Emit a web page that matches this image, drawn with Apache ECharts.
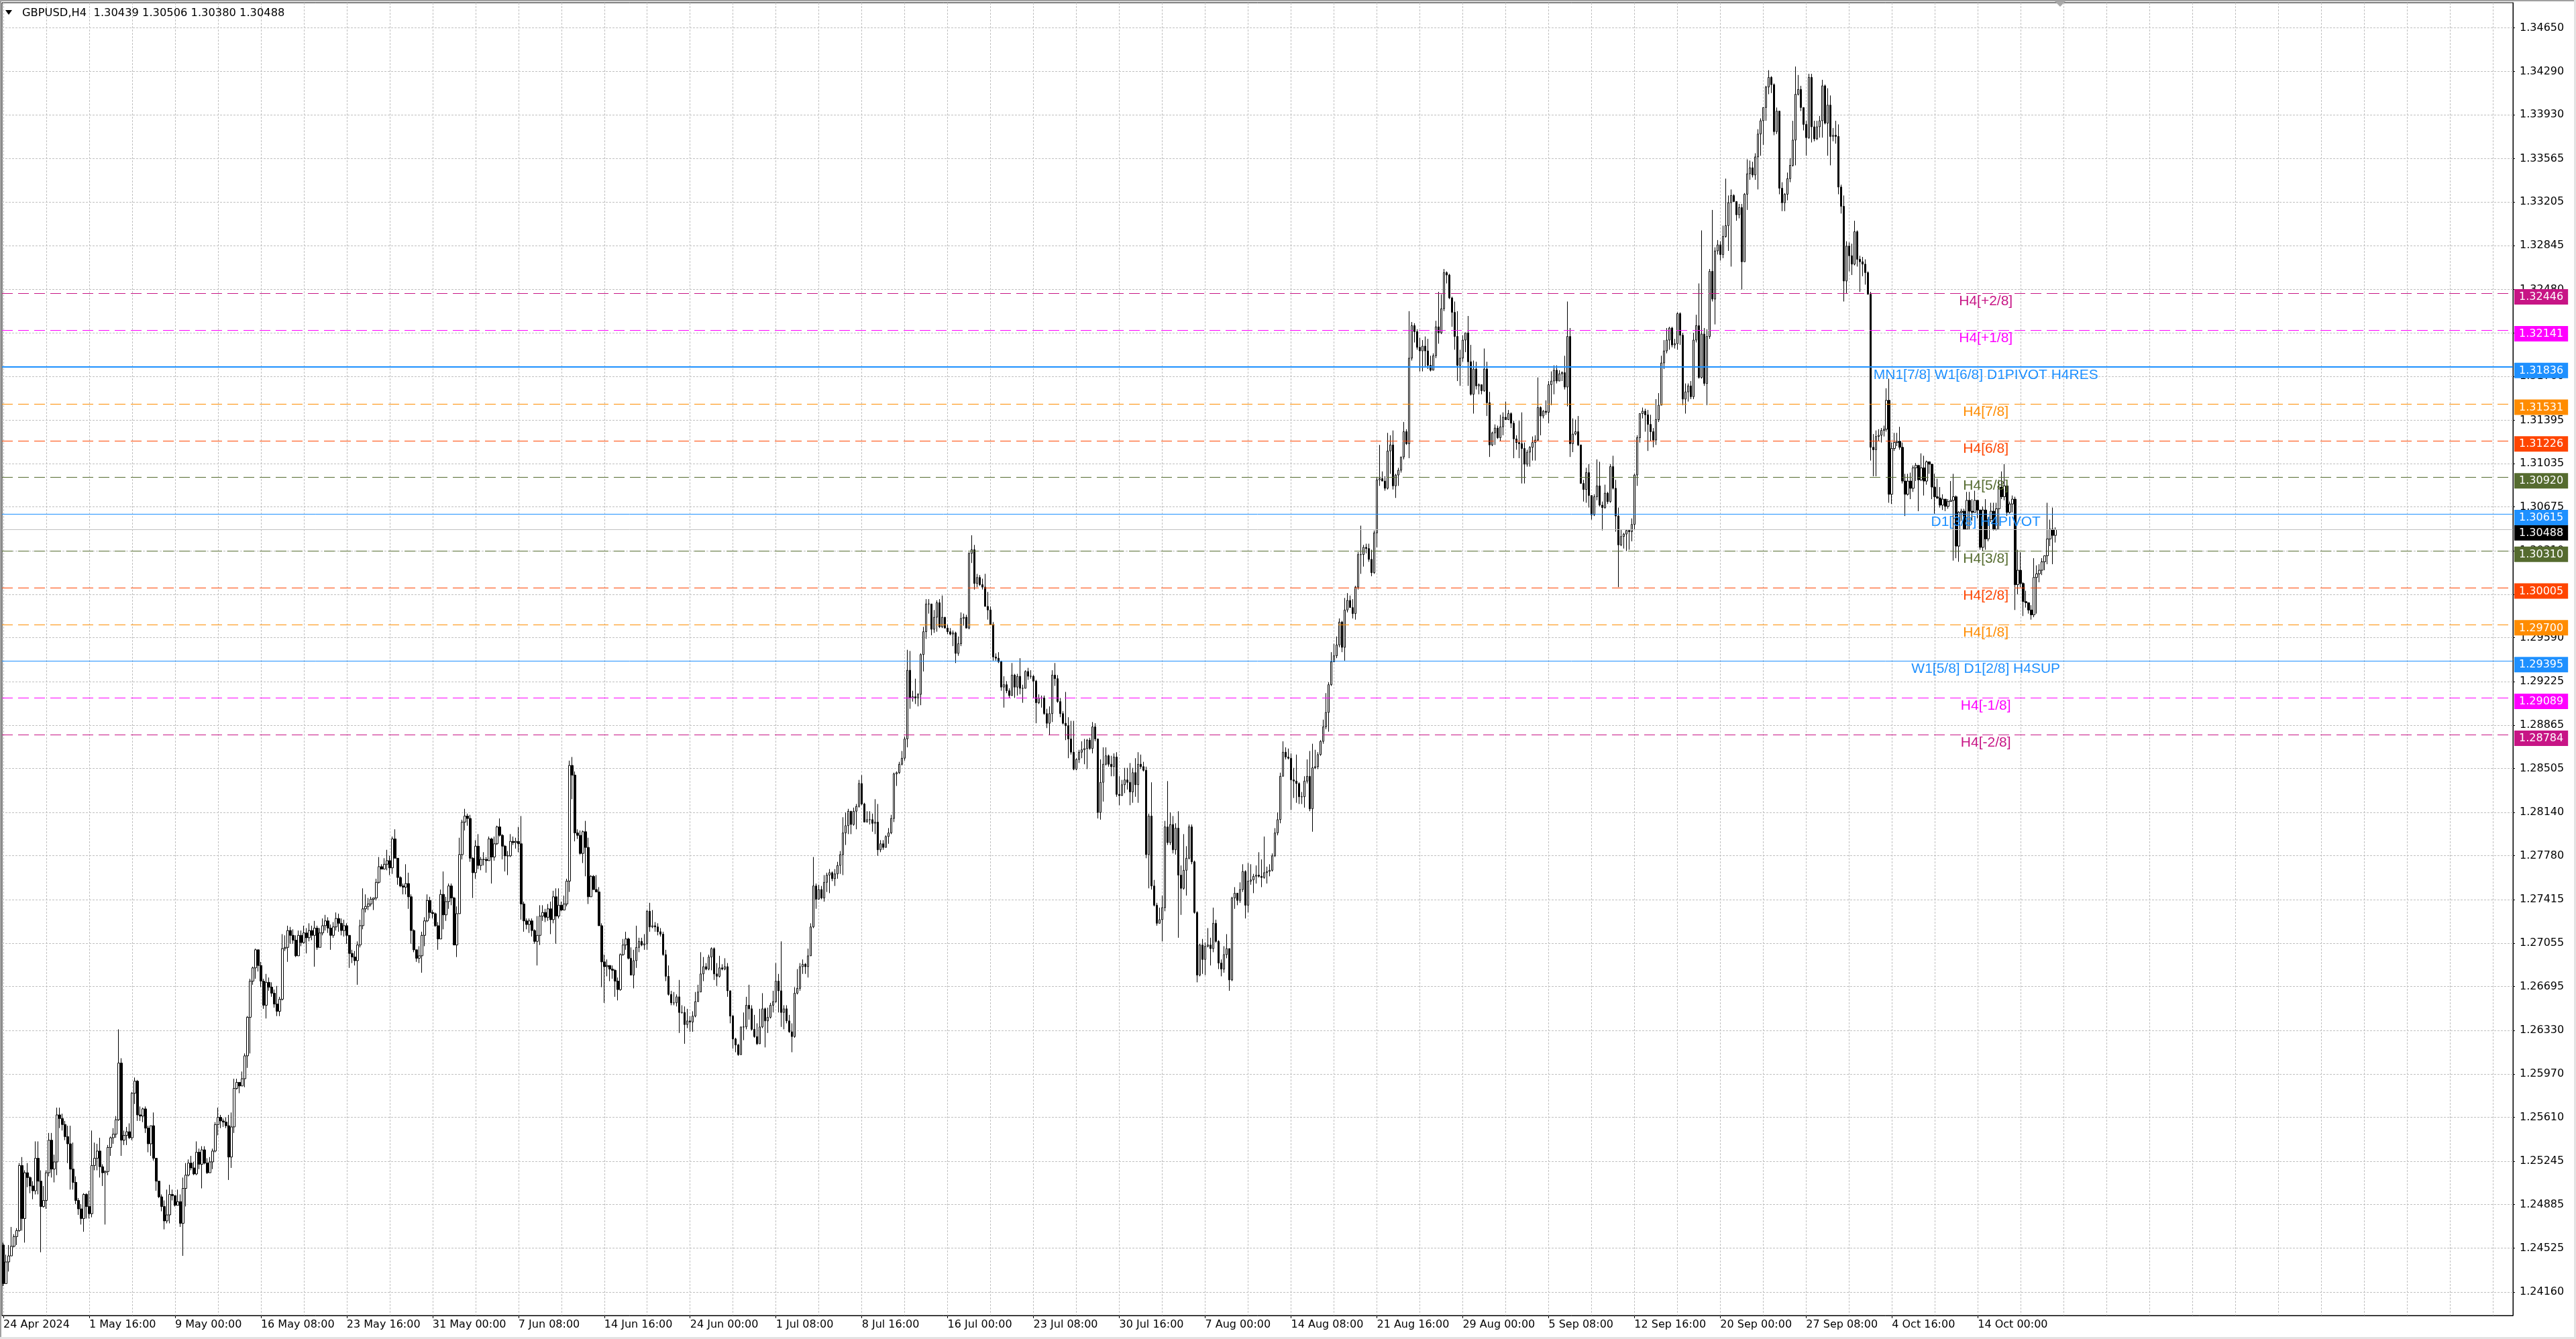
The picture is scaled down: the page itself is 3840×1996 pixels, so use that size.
<!DOCTYPE html>
<html>
<head>
<meta charset="utf-8">
<title>GBPUSD,H4</title>
<script src="https://cdn.jsdelivr.net/npm/echarts@6/dist/echarts.min.js"></script>
<style>
html, body { margin: 0; padding: 0; background: #ffffff; }
#chart { width: 3840px; height: 1996px; }
</style>
</head>
<body>
<div id="chart"></div>
<script>
// GBPUSD H4 bars, prices in pips above 1.0000 (2423 = 1.2423)
// open of each bar = close of the bar before it
var firstOpen = 2455;
var closePips = [
2423,2441,2446,2454,2462,2467,2521,2477,2515,2511,
2504,2500,2527,2508,2487,2492,2515,2542,2518,2524,
2563,2560,2555,2545,2539,2518,2507,2492,2485,2477,
2497,2487,2481,2521,2527,2533,2520,2515,2516,2536,
2544,2547,2559,2606,2542,2546,2549,2544,2581,2591,
2563,2562,2568,2552,2539,2554,2527,2508,2495,2487,
2475,2480,2497,2496,2488,2491,2473,2502,2513,2523,
2519,2514,2532,2522,2534,2523,2515,2524,2533,2555,
2561,2558,2557,2554,2528,2553,2585,2590,2587,2593,
2612,2644,2674,2685,2700,2687,2674,2654,2673,2669,
2664,2655,2649,2659,2701,2702,2716,2712,2708,2695,
2712,2706,2714,2710,2716,2712,2718,2702,2714,2720,
2724,2718,2712,2719,2726,2722,2716,2720,2712,
2697,2694,2691,2704,2720,2734,2736,2738,2742,2743,
2756,2769,2767,2771,2774,2768,2792,2776,2760,2753,
2752,2755,2744,2716,2700,2693,2695,2712,2724,2741,
2731,2730,2720,2709,2746,2729,2740,2753,2743,2704,
2730,2779,2806,2811,2809,2776,2764,2786,2770,2775,
2775,2774,2792,2777,2788,2802,2795,2786,2778,2778,
2790,2789,2790,2788,2738,2724,2721,2724,2716,2707,
2712,2728,2731,2727,2734,2725,2744,2728,2737,2733,
2738,2757,2853,2845,2797,2795,2780,2798,2785,2744,
2761,2750,2748,2720,2690,2686,2687,2684,2683,2674,
2667,2696,2704,2709,2693,2679,2691,2702,2707,2704,
2705,2732,2719,2720,2719,2715,2713,2696,2678,2663,
2656,2656,2661,2648,2648,2638,2641,2640,2645,2657,
2665,2680,2686,2684,2694,2701,2680,2678,2685,2684,
2686,2666,2645,2626,2621,2613,2636,2636,2654,2651,
2634,2628,2622,2636,2651,2641,2644,2654,2657,2674,
2666,2648,2651,2641,2632,2628,2664,2668,2686,2688,
2686,2695,2719,2753,2742,2750,2743,2756,2762,2764,
2759,2763,2770,2779,2797,2803,2815,2804,2815,2819,
2838,2821,2806,2808,2808,2805,2806,2783,2788,2785,
2794,2797,2809,2846,2847,2854,2859,2875,2932,2909,
2910,2909,2912,2945,2964,2987,2987,2966,2976,2988,
2968,2976,2967,2964,2962,2963,2946,2954,2975,2976,
2967,3029,3032,3004,3009,3003,3001,2985,2982,2970,
2943,2942,2939,2918,2920,2915,2911,2928,2918,2927,
2917,2917,2931,2927,2927,2923,2905,2909,2909,2896,
2888,2896,2928,2925,2906,2896,2888,2886,2875,2864,
2850,2858,2864,2866,2867,2874,2867,2885,2875,2814,
2839,2854,2861,2854,2852,2860,2829,2828,2837,2841,
2839,2831,2847,2837,2854,2852,2849,2779,2811,2753,
2737,2722,2725,2735,2802,2789,2804,2783,2801,2762,
2751,2766,2776,2802,2773,2731,2679,2704,2692,2703,
2704,2701,2722,2707,2689,2684,2696,2701,2675,2743,
2747,2741,2750,2765,2737,2757,2758,2761,2762,2761,
2760,2764,2765,2766,2778,2797,2808,2844,2864,2860,
2859,2841,2840,2838,2827,2827,2840,2844,2817,2851,
2852,2862,2873,2885,2897,2920,2939,2944,2953,2972,
2951,2982,2990,2984,2979,3001,3028,3028,3034,3033,
3024,3013,3046,3090,3091,3089,3083,3114,3119,3085,
3094,3098,3109,3130,3120,3191,3218,3213,3200,3197,
3201,3197,3185,3181,3193,3217,3212,3232,3262,3260,
3241,3229,3209,3185,3191,3206,3212,3188,3161,3182,
3168,3169,3164,3182,3154,3119,3129,3133,3125,3134,
3142,3140,3145,3137,3124,3121,3120,3116,3103,3113,
3117,3121,3123,3150,3143,3147,3146,3169,3172,3181,
3172,3178,3179,3167,3209,3120,3128,3130,3119,3087,
3082,3096,3077,3061,3076,3085,3069,3067,3079,3072,
3101,3083,3060,3036,3043,3045,3048,3047,3053,3094,
3125,3145,3147,3144,3136,3130,3123,3140,3152,3187,
3197,3206,3216,3202,3203,3228,3210,3157,3163,3168,
3159,3206,3218,3175,3211,3170,3209,3263,3240,3280,
3285,3277,3292,3301,3320,3326,3321,3310,3316,3271,
3327,3344,3349,3343,3358,3377,3388,3399,3416,3424,
3418,3379,3396,3332,3320,3327,3340,3351,3372,3410,
3414,3399,3385,3374,3424,3383,3373,3383,3388,3417,
3386,3401,3375,3376,3375,3333,3317,3255,3284,3276,
3269,3296,3273,3271,3269,3262,3244,3117,3115,3126,
3127,3131,3132,3156,3078,3116,3121,3122,3117,3089,
3078,3089,3083,3100,3102,3090,3100,3089,3105,3103,
3084,3076,3075,3069,3074,3068,3072,3073,3076,3035,
3063,3064,3049,3073,3064,3063,3073,3065,3034,3065,
3041,3057,3064,3049,3066,3084,3076,3085,3063,3070,
3074,3003,3015,3004,2989,2988,2982,2978,3009,3012,
3015,3022,3027,3041,3049,3043.9,3048.8
];
var highPips = [
2457,2447,2455,2470,2464,2469,2523,2528,2517,2523,
2512,2508,2541,2541,2517,2504,2517,2548,2548,2530,
2569,2569,2564,2558,2554,2554,2540,2512,2494,2489,
2498,2498,2500,2550,2540,2539,2544,2522,2517,2538,
2545,2552,2562,2634,2610,2550,2553,2556,2582,2594,
2592,2570,2569,2570,2554,2554,2565,2527,2504,2497,
2492,2501,2505,2501,2493,2501,2497,2511,2523,2526,
2529,2524,2541,2535,2537,2537,2527,2528,2535,2557,
2569,2563,2560,2561,2563,2565,2593,2593,2590,2599,
2614,2645,2676,2686,2701,2699,2690,2676,2680,2677,
2673,2667,2670,2661,2713,2712,2720,2719,2717,2712,
2716,2716,2720,2718,2722,2720,2724,2720,2718,2726,
2729,2727,2721,2723,2731,2730,2726,2725,2722,
2712,2700,2699,2707,2725,2751,2746,2743,2744,2743,
2759,2777,2771,2776,2783,2778,2794,2800,2776,2761,
2755,2771,2764,2746,2717,2700,2703,2715,2727,2746,
2744,2733,2731,2723,2750,2765,2744,2755,2755,2744,
2736,2793,2808,2817,2813,2812,2777,2791,2796,2777,
2781,2777,2794,2793,2794,2803,2809,2796,2787,2782,
2796,2794,2793,2802,2811,2740,2726,2726,2726,2717,
2728,2737,2737,2734,2738,2740,2749,2751,2751,2740,
2745,2759,2857,2860,2848,2800,2799,2799,2807,2793,
2762,2762,2762,2752,2722,2696,2692,2687,2687,2684,
2677,2697,2709,2715,2710,2702,2700,2720,2710,2710,
2713,2733,2739,2733,2723,2722,2718,2715,2700,2687,
2666,2665,2663,2675,2654,2653,2651,2645,2649,2665,
2671,2698,2694,2689,2696,2702,2702,2689,2695,2688,
2693,2689,2666,2646,2627,2622,2636,2648,2661,2671,
2654,2646,2639,2651,2664,2652,2652,2656,2666,2689,
2680,2707,2654,2654,2646,2639,2669,2684,2689,2692,
2689,2701,2722,2777,2755,2754,2753,2762,2764,2767,
2765,2767,2773,2782,2810,2814,2817,2813,2818,2821,
2841,2845,2822,2815,2815,2813,2825,2821,2791,2791,
2795,2801,2812,2847,2848,2856,2865,2877,2949,2948,
2915,2925,2913,2946,2968,2991,2991,2983,2982,2990,
2991,2994,2976,2970,2967,2965,2964,2960,2980,2979,
2978,3030,3044,3036,3012,3011,3008,3012,2997,2985,
2972,2946,2947,2940,2927,2923,2917,2938,2929,2929,
2942,2920,2932,2934,2932,2928,2924,2912,2911,2911,
2900,2902,2932,2938,2928,2909,2898,2914,2893,2890,
2890,2859,2866,2873,2875,2875,2876,2889,2888,2875,
2858,2868,2868,2862,2861,2863,2864,2844,2841,2851,
2851,2855,2851,2859,2864,2862,2856,2852,2813,2839,
2758,2739,2735,2745,2807,2840,2814,2811,2805,2815,
2770,2796,2786,2804,2804,2774,2732,2705,2709,2706,
2718,2710,2735,2725,2708,2692,2703,2713,2701,2744,
2752,2747,2756,2771,2766,2772,2771,2763,2770,2781,
2775,2794,2769,2771,2780,2801,2814,2847,2873,2868,
2867,2863,2851,2862,2839,2831,2844,2858,2865,2871,
2866,2864,2874,2891,2913,2922,2947,2954,2960,2975,
2973,2992,2996,2994,2991,3002,3030,3052,3036,3037,
3037,3032,3048,3092,3119,3097,3093,3129,3127,3131,
3095,3100,3109,3138,3132,3230,3221,3220,3215,3208,
3206,3209,3207,3193,3195,3222,3246,3244,3265,3263,
3261,3242,3238,3230,3198,3210,3212,3226,3202,3189,
3188,3170,3168,3199,3188,3163,3130,3136,3135,3144,
3146,3155,3148,3146,3139,3127,3139,3146,3121,3115,
3118,3126,3127,3175,3151,3148,3156,3172,3180,3185,
3185,3181,3180,3193,3238,3216,3141,3140,3143,3119,
3090,3100,3103,3072,3078,3107,3105,3072,3086,3080,
3103,3110,3090,3067,3049,3046,3049,3049,3058,3095,
3127,3145,3150,3149,3148,3144,3133,3157,3162,3193,
3206,3216,3217,3217,3207,3229,3229,3212,3170,3170,
3172,3212,3227,3253,3297,3216,3215,3265,3314,3283,
3289,3288,3301,3340,3326,3331,3327,3317,3319,3319,
3328,3356,3355,3354,3361,3381,3390,3399,3417,3430,
3425,3419,3399,3396,3337,3328,3345,3357,3388,3433,
3426,3417,3399,3388,3427,3427,3388,3388,3392,3422,
3418,3415,3409,3382,3388,3385,3335,3326,3288,3287,
3286,3305,3297,3276,3275,3273,3263,3246,3128,3131,
3132,3133,3135,3166,3174,3121,3129,3129,3134,3121,
3095,3095,3096,3102,3104,3102,3112,3110,3106,3104,
3102,3095,3091,3084,3078,3072,3074,3089,3095,3077,
3064,3066,3066,3080,3080,3074,3081,3067,3065,3068,
3074,3059,3071,3071,3071,3090,3097,3103,3076,3072,
3077,3076,3032,3030,3005,2998,2988,2986,3025,3019,
3020,3025,3027,3071,3057,3067,3050.6
];
var lowPips = [
2421,2425,2433,2446,2453,2455,2466,2467,2457,2503,
2498,2493,2497,2497,2449,2486,2485,2512,2511,2507,
2513,2552,2550,2542,2523,2501,2501,2489,2480,2472,
2466,2477,2477,2478,2517,2517,2511,2504,2472,2513,
2529,2539,2544,2558,2529,2538,2538,2543,2542,2572,
2558,2558,2557,2548,2532,2529,2525,2500,2494,2483,
2468,2473,2473,2492,2487,2488,2470,2446,2487,2512,
2517,2513,2513,2518,2502,2522,2514,2517,2518,2532,
2546,2552,2553,2552,2509,2519,2548,2584,2581,2587,
2586,2602,2614,2671,2676,2682,2669,2651,2643,2666,
2661,2652,2645,2645,2658,2699,2690,2705,2705,2694,
2695,2703,2705,2697,2707,2708,2686,2700,2702,2712,
2716,2714,2700,2710,2716,2715,2712,2711,2705,
2685,2689,2687,2671,2702,2717,2731,2733,2736,2733,
2741,2755,2767,2768,2766,2762,2763,2776,2754,2752,
2746,2746,2734,2705,2698,2690,2689,2681,2703,2723,
2726,2726,2719,2700,2709,2717,2724,2734,2737,2704,
2694,2730,2775,2799,2803,2773,2743,2759,2767,2766,
2770,2764,2774,2755,2774,2787,2794,2775,2765,2762,
2777,2787,2784,2781,2725,2715,2717,2714,2711,2705,
2687,2704,2724,2723,2724,2713,2722,2705,2726,2732,
2733,2736,2748,2825,2790,2792,2779,2772,2761,2738,
2744,2750,2748,2720,2669,2656,2678,2674,2676,2661,
2658,2666,2695,2700,2692,2679,2668,2685,2698,2703,
2700,2700,2715,2718,2715,2712,2711,2695,2674,2662,
2654,2654,2653,2631,2647,2622,2635,2632,2632,2644,
2657,2665,2674,2683,2683,2683,2675,2670,2677,2683,
2683,2661,2639,2618,2615,2612,2613,2625,2634,2642,
2633,2627,2621,2622,2635,2619,2631,2643,2648,2656,
2648,2636,2634,2639,2631,2615,2627,2663,2666,2680,
2680,2677,2695,2718,2734,2742,2742,2740,2748,2747,
2757,2753,2759,2763,2762,2787,2796,2796,2803,2800,
2818,2820,2806,2806,2804,2798,2796,2778,2781,2783,
2785,2788,2796,2806,2836,2846,2853,2857,2868,2900,
2906,2904,2902,2903,2931,2958,2979,2961,2963,2964,
2967,2967,2967,2962,2961,2952,2938,2944,2952,2969,
2967,2966,3021,2999,3001,3002,2999,2985,2974,2970,
2940,2940,2938,2915,2901,2913,2909,2911,2909,2911,
2912,2905,2917,2924,2925,2909,2888,2904,2901,2895,
2884,2878,2889,2919,2905,2893,2887,2874,2859,2862,
2849,2849,2855,2859,2854,2850,2866,2863,2873,2809,
2808,2823,2853,2852,2844,2844,2827,2820,2829,2830,
2833,2820,2822,2827,2822,2850,2848,2776,2751,2750,
2736,2720,2722,2707,2732,2787,2787,2780,2779,2710,
2729,2750,2745,2775,2771,2730,2673,2678,2680,2679,
2702,2687,2698,2706,2684,2678,2681,2693,2666,2674,
2734,2737,2739,2748,2726,2731,2754,2747,2755,2760,
2752,2759,2755,2761,2765,2777,2795,2805,2844,2858,
2858,2816,2826,2822,2821,2821,2818,2838,2815,2798,
2850,2850,2861,2871,2883,2881,2919,2939,2942,2951,
2947,2940,2980,2984,2975,2974,2999,3012,3018,3029,
3022,3010,3012,3034,3085,3089,3081,3082,3095,3082,
3075,3085,3096,3107,3119,3108,3189,3204,3198,3180,
3180,3184,3182,3180,3181,3191,3203,3211,3230,3253,
3240,3217,3198,3172,3168,3188,3196,3168,3160,3145,
3165,3161,3161,3163,3143,3109,3118,3119,3124,3122,
3127,3141,3141,3133,3108,3115,3108,3087,3087,3101,
3101,3106,3106,3122,3127,3141,3144,3137,3152,3161,
3170,3172,3172,3165,3151,3109,3113,3127,3118,3087,
3072,3071,3067,3057,3060,3073,3068,3048,3066,3070,
3071,3082,3047,3001,3035,3033,3031,3032,3039,3049,
3085,3121,3141,3130,3114,3122,3117,3119,3138,3152,
3182,3195,3198,3200,3199,3198,3202,3152,3145,3155,
3157,3157,3204,3174,3174,3168,3152,3207,3238,3219,
3277,3272,3274,3291,3280,3267,3321,3305,3307,3248,
3271,3314,3339,3341,3339,3331,3359,3368,3388,3410,
3411,3376,3377,3327,3313,3313,3322,3337,3350,3351,
3409,3396,3380,3359,3373,3370,3371,3372,3374,3374,
3385,3359,3351,3371,3369,3327,3311,3238,3245,3263,
3260,3268,3267,3246,3259,3252,3244,3106,3093,3093,
3122,3121,3126,3130,3071,3070,3114,3118,3115,3087,
3060,3077,3074,3080,3089,3064,3089,3077,3086,3095,
3074,3062,3074,3067,3065,3064,3066,3072,3023,3025,
3022,3056,3049,3049,3049,3056,3063,3058,3032,3031,
3032,3039,3055,3048,3048,3049,3074,3073,3060,3062,
3063,2982,2995,3001,2977,2984,2979,2974,2976,2979,
3005,3011,3015,3020,3035,3020,3038.0
];

// right price scale ticks
var priceTicks = [1.24160, 1.24525, 1.24885, 1.25245, 1.25610, 1.25970, 1.26330, 1.26695, 1.27055, 1.27415,
  1.27780, 1.28140, 1.28505, 1.28865, 1.29225, 1.29590, 1.29950, 1.30310, 1.30675, 1.31035,
  1.31395, 1.31760, 1.32120, 1.32480, 1.32845, 1.33205, 1.33565, 1.33930, 1.34290, 1.34650];

// time scale labels, one every 32 bars
var timeLabels = ['24 Apr 2024', '1 May 16:00', '9 May 00:00', '16 May 08:00', '23 May 16:00', '31 May 00:00',
  '7 Jun 08:00', '14 Jun 16:00', '24 Jun 00:00', '1 Jul 08:00', '8 Jul 16:00', '16 Jul 00:00',
  '23 Jul 08:00', '30 Jul 16:00', '7 Aug 00:00', '14 Aug 08:00', '21 Aug 16:00', '29 Aug 00:00',
  '5 Sep 08:00', '12 Sep 16:00', '20 Sep 00:00', '27 Sep 08:00', '4 Oct 16:00', '14 Oct 00:00'];

// murrey levels
var levelPrices = [1.32446, 1.32141, 1.31836, 1.31531, 1.31226, 1.30920, 1.30615, 1.30310, 1.30005, 1.29700, 1.29395, 1.29089, 1.28784];
var levelNames = ['H4[+2/8]', 'H4[+1/8]', 'MN1[7/8] W1[6/8] D1PIVOT H4RES', 'H4[7/8]', 'H4[6/8]', 'H4[5/8]',
  'D1[3/8] H4PIVOT', 'H4[3/8]', 'H4[2/8]', 'H4[1/8]', 'W1[5/8] D1[2/8] H4SUP', 'H4[-1/8]', 'H4[-2/8]'];

// styles
var levelColors = ['#C71585', '#FF00FF', '#1E90FF', '#FF8C00', '#FF4500', '#556B2F', '#1E90FF',
  '#556B2F', '#FF4500', '#FF8C00', '#1E90FF', '#FF00FF', '#C71585'];
var levelSolid = [false, false, true, false, false, false, true, false, false, false, true, false, false];
var levelWidth = [1, 1, 2, 1, 1, 1, 1, 1, 1, 1, 1, 1, 1];
var slotCount = 936;   // bar slots that fit the window at 4px per bar
var labelBar = 739;    // bar the level texts are anchored to
var barsPerLabel = 32;

var toPrice = function (p) { return p / 10000 + 1; };

var n = Math.min(closePips.length, highPips.length, lowPips.length);
var candles = [];
for (var i = 0; i < n; i++) {
    var o = i === 0 ? firstOpen : closePips[i - 1];
    var c = closePips[i];
    var h = Math.max(highPips[i], o, c);
    var l = Math.min(lowPips[i], o, c);
    candles.push([toPrice(o), toPrice(c), toPrice(l), toPrice(h)]);
}
var slots = [];
for (var s = 0; s < slotCount; s++) slots.push(s);

var last = candles[candles.length - 1];
var headerText = 'GBPUSD,H4  ' + [last[0], last[3], last[2], last[1]].map(function (v) { return v.toFixed(5); }).join(' ');

// price box on the right scale, hanging slightly below its line like the terminal does
var boxLabel = function (price, color) {
    return {
        show: true,
        position: 'end',
        distance: 2,
        formatter: '{gap| }\n{box|' + price.toFixed(5) + '}',
        rich: {
            gap: { fontSize: 1, height: 10, lineHeight: 10 },
            box: {
                color: '#ffffff',
                backgroundColor: color,
                padding: [4, 7, 3, 7],
                fontSize: 16,
                fontFamily: 'DejaVu Sans'
            }
        }
    };
};

var lineData = [];
var pointData = [];
lineData.push({
    yAxis: last[1],
    lineStyle: { color: '#c0c0c0', width: 1, type: 'solid' },
    label: boxLabel(last[1], '#000000')
});
levelPrices.forEach(function (p, k) {
    lineData.push({
        yAxis: p,
        lineStyle: { color: levelColors[k], width: levelWidth[k], type: levelSolid[k] ? 'solid' : [16, 8] },
        label: boxLabel(p, levelColors[k])
    });
    pointData.push({
        coord: [labelBar, p],
        label: {
            show: true,
            position: 'bottom',
            distance: 1,
            formatter: levelNames[k],
            color: levelColors[k],
            fontSize: 21,
            fontFamily: 'Liberation Sans'
        }
    });
});

var showTimeLabel = function (index) {
    return index % barsPerLabel === 0 && index / barsPerLabel < timeLabels.length;
};

var chart = echarts.init(document.getElementById('chart'), null, { renderer: 'canvas', width: 3840, height: 1996 });
chart.setOption({
    animation: false,
    backgroundColor: '#ffffff',
    textStyle: { fontFamily: 'DejaVu Sans' },
    grid: {
        left: 3, top: 4, width: 3743, height: 1957,
        show: true, borderColor: '#000000', borderWidth: 1, backgroundColor: '#ffffff',
        containLabel: false, outerBoundsMode: 'none'
    },
    xAxis: {
        type: 'category',
        data: slots,
        boundaryGap: true,
        axisLine: { show: true, lineStyle: { color: '#000000', width: 1 } },
        axisTick: { show: true, interval: showTimeLabel, alignWithLabel: true, length: 4, lineStyle: { color: '#000000' } },
        axisLabel: {
            show: true, interval: showTimeLabel, align: 'left', margin: 6,
            color: '#000000', fontSize: 16, fontFamily: 'DejaVu Sans',
            formatter: function (v, index) { return timeLabels[index / barsPerLabel] || ''; }
        },
        splitLine: { show: true, interval: 15, alignWithLabel: true, lineStyle: { color: '#c0c0c0', width: 1, type: [3, 2] } }
    },
    yAxis: {
        type: 'value',
        position: 'right',
        min: 1.23965,
        max: 1.34860,
        axisLine: { show: true, lineStyle: { color: '#000000', width: 1 } },
        axisTick: { show: true, length: 3, customValues: priceTicks, lineStyle: { color: '#000000' } },
        axisLabel: {
            show: true, customValues: priceTicks, margin: 10,
            color: '#000000', fontSize: 16, fontFamily: 'DejaVu Sans',
            formatter: function (v) { return v.toFixed(5); }
        },
        splitLine: { show: true, lineStyle: { color: '#c0c0c0', width: 1, type: [3, 2] } }
    },
    series: [
        {
            type: 'line',
            data: [],
            z: 2,
            silent: true,
            showSymbol: false,
            clip: false,
            markLine: {
                silent: true,
                animation: false,
                precision: 5,
                symbol: ['none', 'none'],
                emphasis: { disabled: true },
                data: lineData
            },
            markPoint: {
                silent: true,
                animation: false,
                symbol: 'rect',
                symbolSize: 1,
                itemStyle: { color: 'rgba(0,0,0,0)' },
                data: pointData
            }
        },
        {
            type: 'candlestick',
            data: candles,
            z: 3,
            silent: true,
            large: false,
            barWidth: 3,
            itemStyle: {
                color: '#ffffff',
                color0: '#000000',
                borderColor: '#000000',
                borderColor0: '#000000',
                borderWidth: 1
            }
        }
    ],
    graphic: [
        { type: 'rect', z: 100, shape: { x: 0, y: 0, width: 3840, height: 2 }, style: { fill: '#a0a0a0' } },
        { type: 'rect', z: 100, shape: { x: 0, y: 0, width: 2, height: 1996 }, style: { fill: '#a0a0a0' } },
        { type: 'rect', z: 100, shape: { x: 3837, y: 0, width: 3, height: 1996 }, style: { fill: '#e3e3e3' } },
        { type: 'rect', z: 100, shape: { x: 0, y: 1993, width: 3840, height: 3 }, style: { fill: '#e3e3e3' } },
        { type: 'polygon', z: 100, shape: { points: [[8, 15], [18, 15], [13, 22]] }, style: { fill: '#000000' } },
        { type: 'polygon', z: 100, shape: { points: [[3063, 2], [3079, 2], [3071, 10]] }, style: { fill: '#a8a8a8' } },
        {
            type: 'text', z: 100, x: 33, y: 20,
            style: { text: headerText, fill: '#000000', fontSize: 16.3, fontFamily: 'DejaVu Sans', verticalAlign: 'middle' }
        }
    ]
});
</script>
</body>
</html>
